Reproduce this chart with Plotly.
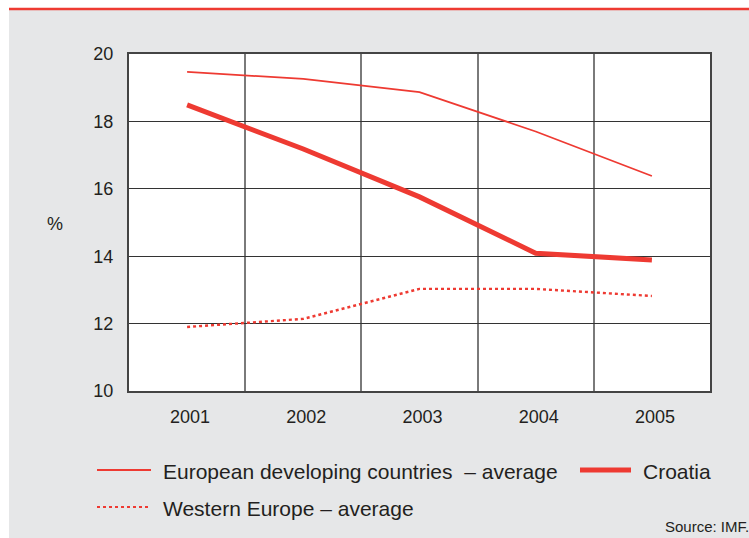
import plotly.graph_objects as go

# Values by year (%)
years = ["2001", "2002", "2003", "2004", "2005"]
eur_developing = [19.47, 19.26, 18.87, 17.70, 16.38]
croatia = [18.49, 17.18, 15.76, 14.09, 13.89]
western_europe = [11.90, 12.14, 13.03, 13.03, 12.82]

y_ticks = [10, 12, 14, 16, 18, 20]

RED = "#ee3a32"
BG = "#e6e7e8"
FONT = "Liberation Sans, Arial, Helvetica, sans-serif"
TXT = "#231f20"

W, H = 749, 538
L, R, T, B = 129, 39, 54, 147
pw, ph = W - L - R, H - T - B


def px(x):
    return (x - L) / pw


def py(y):
    return 1 - (y - T) / ph


fig = go.Figure()
fig.add_trace(go.Scatter(x=years, y=eur_developing, mode="lines",
                         line=dict(color=RED, width=1.8),
                         name="European developing countries – average"))
fig.add_trace(go.Scatter(x=years, y=croatia, mode="lines",
                         line=dict(color=RED, width=5),
                         name="Croatia"))
fig.add_trace(go.Scatter(x=years, y=western_europe, mode="lines",
                         line=dict(color=RED, width=2.4, dash="dot"),
                         name="Western Europe – average"))

shapes = [
    # white strips around the grey panel
    dict(type="rect", xref="paper", yref="paper", x0=px(0), x1=px(9),
         y0=py(H), y1=py(0), fillcolor="white", line_width=0, layer="below"),
    dict(type="rect", xref="paper", yref="paper", x0=px(0), x1=px(W),
         y0=py(8), y1=py(0), fillcolor="white", line_width=0, layer="below"),
    # red rule across the top
    dict(type="line", xref="paper", yref="paper", x0=px(9), x1=px(W),
         y0=py(9), y1=py(9), line=dict(color=RED, width=2.5)),
    # legend samples
    dict(type="line", xref="paper", yref="paper", x0=px(97), x1=px(151),
         y0=py(470), y1=py(470), line=dict(color=RED, width=1.8)),
    dict(type="line", xref="paper", yref="paper", x0=px(580), x1=px(631),
         y0=py(470), y1=py(470), line=dict(color=RED, width=5)),
    dict(type="line", xref="paper", yref="paper", x0=px(97), x1=px(151),
         y0=py(507), y1=py(507), line=dict(color=RED, width=2, dash="dot")),
]


def label(text, x, y, size, xanchor="left"):
    return dict(text=text, x=px(x), y=py(y), xref="paper", yref="paper",
                xanchor=xanchor, yanchor="middle", showarrow=False,
                font=dict(size=size, color=TXT, family=FONT))


annotations = [
    label("%", 55, 224, 18, "center"),
    label("European developing countries  – average", 161, 471, 21),
    label("Croatia", 641, 471, 21),
    label("Western Europe – average", 161, 508, 21),
    label("Source: IMF.", 751, 526, 15, "right"),
]

fig.update_layout(
    width=W, height=H,
    margin=dict(l=L, r=R, t=T, b=B),
    paper_bgcolor=BG, plot_bgcolor="white",
    showlegend=False,
    font=dict(family=FONT, color=TXT, size=18),
    shapes=shapes, annotations=annotations,
    xaxis=dict(type="category", tickson="boundaries", showgrid=True,
               gridcolor="#7a7a7a", gridwidth=1.5,
               showline=True, mirror=True, linecolor="#444", linewidth=2,
               ticks="", ticklabelstandoff=8, ticklabelshift=3,
               tickfont=dict(size=18),
               range=[-0.5, 4.5], fixedrange=True),
    yaxis=dict(range=[10, 20], tickvals=y_ticks, showgrid=True,
               gridcolor="#333", gridwidth=1.3, zeroline=False,
               showline=True, mirror=True, linecolor="#444", linewidth=2,
               ticks="", ticklabelstandoff=10, tickfont=dict(size=18),
               fixedrange=True),
)

fig.write_html("out.html")
